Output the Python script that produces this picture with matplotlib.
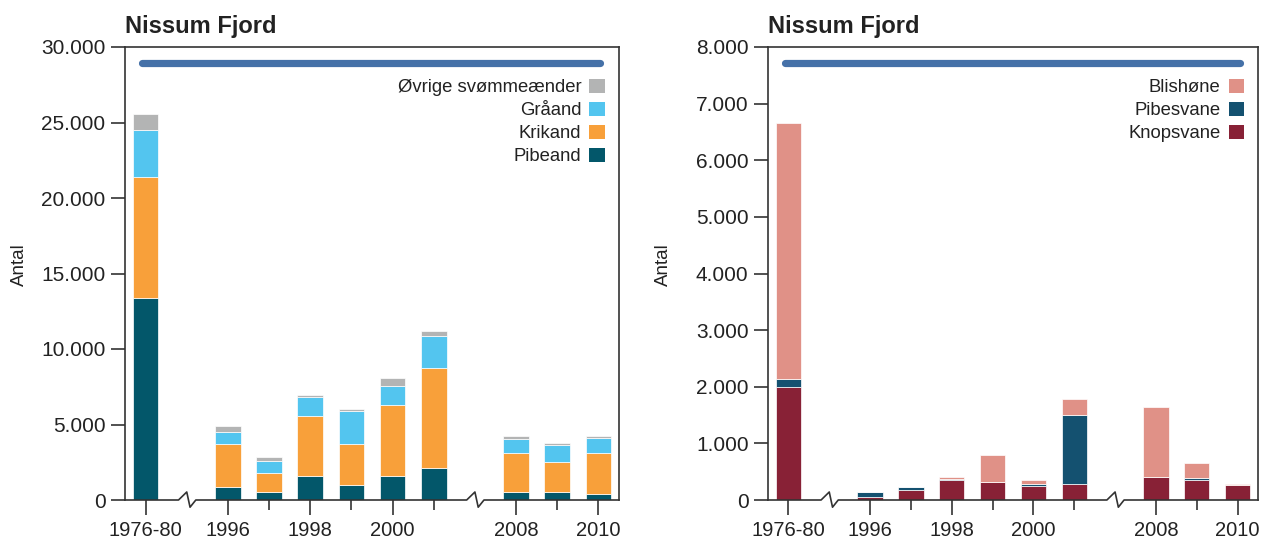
import matplotlib.pyplot as plt
import numpy as np
from matplotlib.patches import Patch
from matplotlib.ticker import FuncFormatter

plt.rcParams['font.family'] = ['Liberation Sans', 'DejaVu Sans']

# Perioder og grupper (grupperne adskilles af et brud på x-aksen)
perioder = ["1976-80", "1996", "1997", "1998", "1999", "2000", "2001", "2008", "2009", "2010"]
gruppe = [0, 1, 1, 1, 1, 1, 1, 2, 2, 2]
vis_label = ["1976-80", "1996", "1998", "2000", "2008", "2010"]

# Svømmeænder (venstre)
pibeand = [13350, 890, 510, 1600, 1000, 1600, 2110, 510, 510, 400]
krikand = [8070, 2840, 1310, 3930, 2730, 4670, 6650, 2600, 2020, 2710]
graaand = [3115, 780, 780, 1310, 2180, 1260, 2080, 910, 1110, 1000]
oevrige = [995, 420, 220, 120, 130, 540, 320, 200, 120, 130]

# Svaner og blishøne (højre)
knopsvane = [1990, 50, 170, 350, 318, 245, 290, 410, 360, 260]
pibesvane = [150, 90, 60, 28, 0, 35, 1210, 0, 25, 0]
blishoene = [4510, 0, 0, 30, 478, 65, 280, 1240, 270, 30]

xpos = np.arange(len(perioder)) + np.array(gruppe)
brud = [(xpos[i] + xpos[i + 1]) / 2 for i in range(len(xpos) - 1) if gruppe[i] != gruppe[i + 1]]

AKSE = '#333333'
LINJE = '#4571a8'


def fmt_tal(v, _):
    return f"{int(v):,}".replace(',', '.')


def tegn_panel(ax, serier, navne, farver, ymax, ystep, linje_y):
    bund = np.zeros(len(perioder))
    for vaerdier, farve in zip(serier, farver):
        ax.bar(xpos, vaerdier, width=0.62, bottom=bund, color=farve,
               edgecolor='white', linewidth=0.5, zorder=2)
        bund += np.array(vaerdier)

    xmin, xmax = xpos[0] - 0.5, xpos[-1] + 0.5
    ax.set_xlim(xmin, xmax)
    ax.set_ylim(0, ymax)

    # blå linje øverst
    ax.plot([xpos[0] - 0.08, xpos[-1] + 0.05], [linje_y, linje_y], color=LINJE,
            lw=5.2, solid_capstyle='round', zorder=3)

    # spines
    for side in ['left', 'top', 'right']:
        ax.spines[side].set_color(AKSE)
        ax.spines[side].set_linewidth(1.2)
    ax.spines['bottom'].set_visible(False)

    # x-akse med brud
    dy = 8 / 453
    xs, ys = [xmin], [0]
    for b in brud:
        xs += [b - 0.2, b + 0.0, b + 0.08, b + 0.22]
        ys += [0, dy, -dy * 0.9, 0]
    xs.append(xmax)
    ys.append(0)
    ax.plot(xs, ys, color=AKSE, lw=1.2, transform=ax.get_xaxis_transform(),
            clip_on=False, zorder=4)

    major = [x for x, p in zip(xpos, perioder) if p in vis_label]
    minor = [x for x, p in zip(xpos, perioder) if p not in vis_label]
    ax.set_xticks(major, [p for p in perioder if p in vis_label])
    ax.set_xticks(minor, minor=True)
    ax.tick_params(axis='x', which='major', length=11, width=1.2, color=AKSE,
                   labelsize=14.5, pad=4, labelcolor='#222222')
    ax.tick_params(axis='x', which='minor', length=7, width=1.2, color=AKSE)

    ax.set_yticks(np.arange(0, ymax + 1, ystep))
    ax.yaxis.set_major_formatter(FuncFormatter(fmt_tal))
    ax.tick_params(axis='y', length=10, width=1.2, color=AKSE, labelsize=15,
                   pad=4, labelcolor='#222222')

    ax.set_title('Nissum Fjord', loc='left', fontweight='bold', fontsize=17,
                 pad=10, color='#222222')
    ax.set_ylabel('Antal', fontsize=13.5, color='#222222')
    ax.yaxis.set_label_coords(-0.196, 0.519)

    handles = [Patch(facecolor=f, edgecolor='none', label=n)
               for n, f in zip(navne, farver)][::-1]
    ax.legend(handles=handles, loc='upper right', bbox_to_anchor=(0.972, 0.930),
              frameon=False, markerfirst=False, fontsize=13.3, handlelength=0.85,
              handleheight=0.85, handletextpad=0.45, labelspacing=0.28,
              borderpad=0, borderaxespad=0, labelcolor='#222222')


fig = plt.figure(figsize=(12.63, 5.38), dpi=100)
ax1 = fig.add_axes([125 / 1263, 38 / 538, 494 / 1263, 453 / 538])
ax2 = fig.add_axes([768 / 1263, 38 / 538, 490 / 1263, 453 / 538])

tegn_panel(ax1, [pibeand, krikand, graaand, oevrige],
           ['Pibeand', 'Krikand', 'Gråand', 'Øvrige svømmeænder'],
           ['#03576a', '#f8a03a', '#53c5ef', '#b3b4b4'],
           30000, 5000, 28950)

tegn_panel(ax2, [knopsvane, pibesvane, blishoene],
           ['Knopsvane', 'Pibesvane', 'Blishøne'],
           ['#882136', '#145170', '#e09187'],
           8000, 1000, 7720)

fig.savefig('out.png', dpi=100)
